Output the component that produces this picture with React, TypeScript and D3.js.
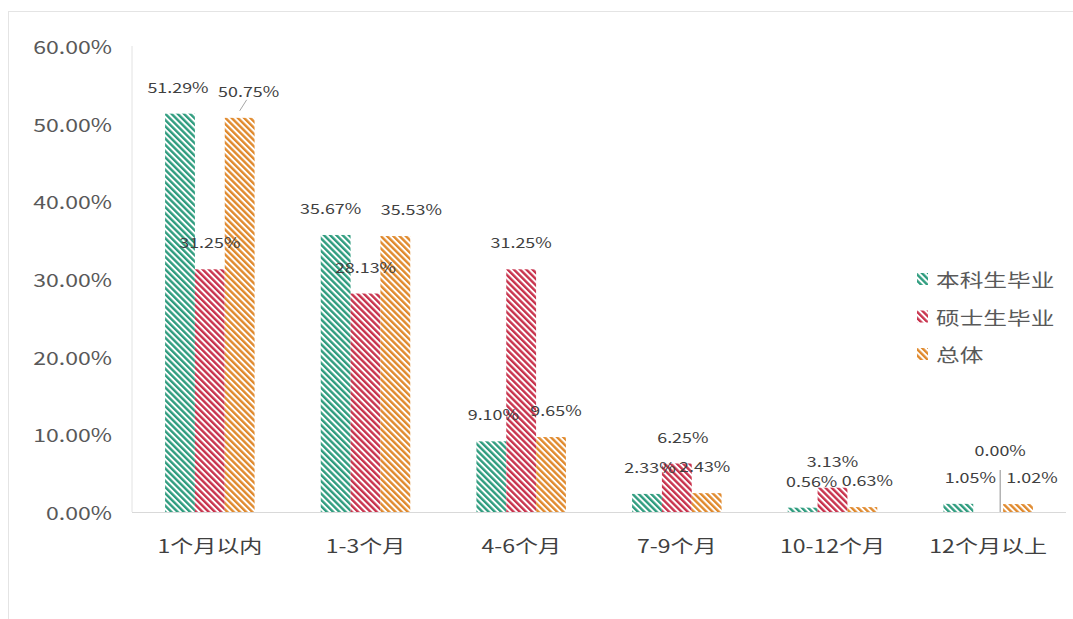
import React from "react";
import * as d3 from "d3";

const categories = ["1个月以内", "1-3个月", "4-6个月", "7-9个月", "10-12个月", "12个月以上"];
const seriesNames = ["本科生毕业", "硕士生毕业", "总体"];
const undergrad = [0.5129, 0.3567, 0.091, 0.0233, 0.0056, 0.0105];
const master = [0.3125, 0.2813, 0.3125, 0.0625, 0.0313, 0.0];
const overall = [0.5075, 0.3553, 0.0965, 0.0243, 0.0063, 0.0102];
const yTicks = [0, 0.1, 0.2, 0.3, 0.4, 0.5, 0.6];

// layout-only label nudges (px), per series per category
const labelDx = [
  [-2, -5, 2, 3, 9, 12],
  [0, 0, 0, 6, 0, 12],
  [9, 16, 5, -2, 5, 14],
];
const labelDy = [
  [0, 0, 0, 0, 0, 0],
  [0, 0, 0, 0, 0, -35],
  [0, 0, 0, 0, 0, 0],
];
const leaders = [
  [false, false, false, false, false, false],
  [false, false, false, false, false, true],
  [true, false, false, false, false, false],
];

const colors = ["#2e9c7e", "#c8324c", "#e0892c"];
const W = 1073;
const H = 619;
const SX = 1.28;
const FONT = "'Noto Sans CJK SC', 'Noto Sans', sans-serif";

function SText(props: { x: number; y: number; size: number; anchor?: string; fill?: string; children: any }) {
  const { x, y, size, anchor = "middle", fill = "#404040", children } = props;
  return (
    <text
      transform={`translate(${x},${y}) scale(${SX},1)`}
      fontSize={size}
      textAnchor={anchor}
      dominantBaseline="central"
      fill={fill}
      fontFamily={FONT}
    >
      {children}
    </text>
  );
}

export default function App() {
  const series = [undergrad, master, overall];
  const x = d3.scaleBand<string>().domain(categories).range([132, 1066]).paddingInner(0).paddingOuter(0);
  const groupW = x.step() * 0.575;
  const xs = d3.scaleBand<number>().domain([0, 1, 2]).range([0, groupW]).padding(0);
  const y = d3.scaleLinear().domain([0, 0.6]).range([512, 46]);
  const fmt = (v: number) => (v * 100).toFixed(2) + "%";

  return (
    <svg width={W} height={H} style={{ position: "absolute", left: 0, top: 0, background: "#fff" }}>
      <defs>
        {colors.map((c, i) => (
          <pattern
            key={i}
            id={`hatch${i}`}
            patternUnits="userSpaceOnUse"
            width={4.4}
            height={4.4}
            patternTransform="rotate(-45)"
          >
            <rect width={4.4} height={4.4} fill="#fff" />
            <line x1={1.2} y1={0} x2={1.2} y2={4.4} stroke={c} strokeWidth={2.4} />
          </pattern>
        ))}
      </defs>
      <rect x={8.5} y={11.5} width={W} height={H} fill="#fff" stroke="#e4e4e4" />
      {/* y axis line */}
      <line x1={132} x2={132} y1={y(0.6)} y2={y(0)} stroke="#e2e2e2" />
      {/* y ticks */}
      {yTicks.map((t) => (
        <SText key={t} x={112} y={y(t)} size={18} anchor="end" fill="#595959">
          {fmt(t)}
        </SText>
      ))}
      {/* bars */}
      {series.map((vals, si) =>
        vals.map((v, ci) => (
          <rect
            key={`${si}-${ci}`}
            x={(x(categories[ci]) as number) + (x.step() - groupW) / 2 + (xs(si) as number)}
            y={y(v)}
            width={xs.bandwidth()}
            height={y(0) - y(v)}
            fill={`url(#hatch${si})`}
          />
        ))
      )}
      {/* x axis */}
      <line x1={132} x2={1066} y1={y(0) + 0.5} y2={y(0) + 0.5} stroke="#d9d9d9" />
      {categories.map((c) => (
        <SText key={c} x={(x(c) as number) + x.bandwidth() / 2} y={545} size={18} fill="#404040">
          {c}
        </SText>
      ))}
      {/* data labels */}
      {series.map((vals, si) =>
        vals.map((v, ci) => {
          const cx = (x(categories[ci]) as number) + (x.step() - groupW) / 2 + (xs(si) as number) + xs.bandwidth() / 2;
          const lx = cx + labelDx[si][ci];
          const ly = y(v) - 27 + labelDy[si][ci];
          return (
            <g key={`l${si}-${ci}`}>
              {leaders[si][ci] &&
                (si === 1 ? (
                  <line x1={lx} x2={lx} y1={ly + 20} y2={y(v)} stroke="#8c8c8c" />
                ) : (
                  <line x1={lx - 2} x2={cx} y1={ly + 9} y2={y(v) - 7} stroke="#a6a6a6" />
                ))}
              <SText x={lx} y={ly} size={14}>
                {fmt(v)}
              </SText>
            </g>
          );
        })
      )}
      {/* legend */}
      {seriesNames.map((n, i) => (
        <g key={n}>
          <rect x={917} y={273 + i * 37.5} width={11} height={12} fill={`url(#hatch${i})`} />
          <SText x={936} y={279 + i * 37.5} size={18.5} anchor="start" fill="#595959">
            {n}
          </SText>
        </g>
      ))}
    </svg>
  );
}
